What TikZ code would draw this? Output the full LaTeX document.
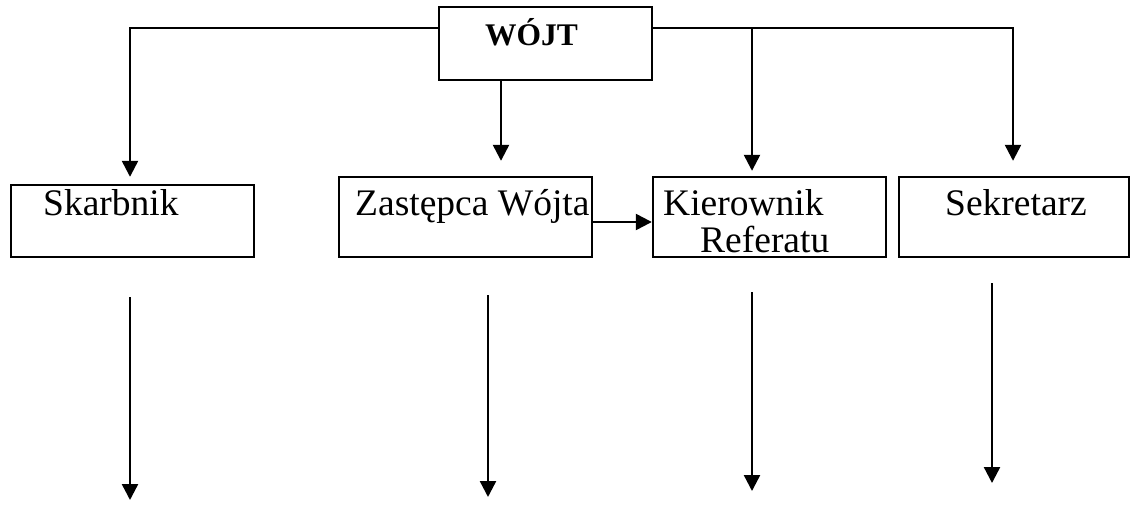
\documentclass[tikz,border=0pt]{standalone}
\usepackage{fontspec}
\setmainfont{Liberation Serif}
\usetikzlibrary{arrows.meta}
\begin{document}
\begin{tikzpicture}[x=1pt,y=-1pt,
  box/.style={draw,line width=2.4pt,inner sep=0pt},
  lbl/.style={inner sep=0pt,anchor=base west,font=\fontsize{37.5}{40}\selectfont},
  conn/.style={line width=2.4pt},
  arr/.style={conn,-{Triangle[width=16pt,length=16pt]}}]
\useasboundingbox (0,0) rectangle (1131,506);
% boxes
\node[box,minimum width=213pt,minimum height=73pt] (wojt) at (545.5,43.5) {};
\node[box,minimum width=243pt,minimum height=72pt] (skarb) at (132.5,221) {};
\node[box,minimum width=253pt,minimum height=80pt] (zast) at (465.5,217) {};
\node[box,minimum width=233pt,minimum height=80pt] (kier) at (769.5,217) {};
\node[box,minimum width=230pt,minimum height=80pt] (sekr) at (1014,217) {};
% labels
\node[lbl,font=\fontsize{31.5}{34}\selectfont\bfseries] (twojt) at (485,45) {WÓJT};
\node[lbl] (tskarb) at (43,215) {Skarbnik};
\node[lbl] (tzast) at (355,215) {Zastępca Wójta};
\node[lbl] (tkier1) at (663,215) {Kierownik};
\node[lbl] (tkier2) at (700,252) {Referatu};
\node[lbl] (tsekr) at (945,215) {Sekretarz};
% connectors from WÓJT
\coordinate (lcorner) at (130,28);
\coordinate (rcorner) at (1013,28);
\coordinate (kc) at (752,28);
\draw[arr,shorten >=7pt] (wojt.west |- lcorner) -- (lcorner) -- (lcorner |- skarb.north);
\draw[arr,shorten >=15pt] ([xshift=-44.5pt]wojt.south) -- ([xshift=-44.5pt]wojt.south |- zast.north);
\draw[arr,shorten >=15pt] (wojt.east |- rcorner) -- (rcorner) -- (rcorner |- sekr.north);
\draw[arr,shorten >=5pt] (kc) -- (kc |- kier.north);
\draw[arr] ([yshift=-5pt]zast.east) -- ([yshift=-5pt]kier.west);
% lower arrows
\coordinate (a1) at (130,297); \coordinate (b1) at (130,500);
\coordinate (a2) at (488,295); \coordinate (b2) at (488,497);
\coordinate (a3) at (752,292); \coordinate (b3) at (752,491);
\coordinate (a4) at (992,283); \coordinate (b4) at (992,483);
\draw[arr] (a1) -- (b1);
\draw[arr] (a2) -- (b2);
\draw[arr] (a3) -- (b3);
\draw[arr] (a4) -- (b4);
\end{tikzpicture}
\end{document}
